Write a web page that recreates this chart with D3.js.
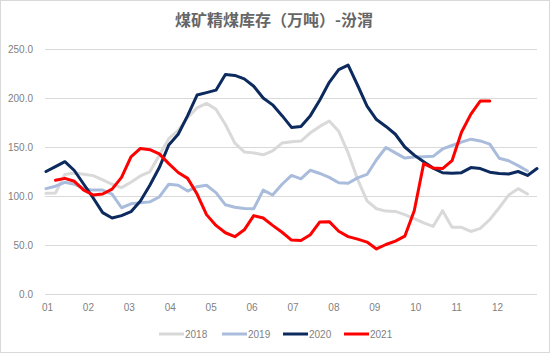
<!DOCTYPE html>
<html><head><meta charset="utf-8">
<script src="https://cdn.jsdelivr.net/npm/d3@7/dist/d3.min.js"></script>
<style>body{margin:0;background:#fff}svg{display:block}</style>
</head><body>
<svg id="c" width="550" height="353"></svg>
<script>
const monthLabels = ["01","02","03","04","05","06","07","08","09","10","11","12"];
const yTicks = [0, 50, 100, 150, 200, 250];
const seriesNames = ["2018","2019","2020","2021"];
const seriesColors = ["#d9d9d9","#a9bcdc","#0c2a5e","#ff0000"];
// weekly values (week index 0..52)
const v2018 = [102.7,103,122,123.5,122.3,120.8,116.5,112,108.5,114,120.5,124.7,141.5,158.5,167,180,190,194.5,188.5,173,154,145,144,142,146,154,155.4,156,164.5,171,176.5,166,144,117,95,87,84.6,84.3,81,77,72.5,69,85,68,68,63.8,67,76,88,101,107.5,102];
const v2019 = [107.5,110,114,112,107.5,106,106,102,88,92,93,94,99,112,111,105,109.5,111,103.5,91,88.5,87.3,87,106,101,112,121,117.5,126.3,123,119,113.5,113,118.5,122,137,149.5,144,138.7,139.7,140,140.5,148,151.5,155,158,156.2,153,138.5,136,131,125.5];
const v2020 = [125,130,135,126,112,98,83,77.5,80,84,95,111,129,152,163,182,203,205.5,208,224,223,219.5,212,200,193,182,170,171,182,198,216,229,233.5,213,191.8,178,171,163,150,141.7,135,128.5,123.7,123.3,123.8,129,128,124.3,123,122.5,125,121,128];
const v2021 = [null,116,118,115,106,101,102,107,119,140,148.5,147.3,143,133,124,118,102,81,70,62.5,58.5,65.5,80,77.5,70,63,55,54.5,60.5,73.5,73.8,64,58.5,56,53,46,50.5,54,59,85,133,128.5,128,136,165,183.5,197,197];
const seriesValues = [v2018, v2019, v2020, v2021];

const svg = d3.select("#c");
const fontLat = "'Liberation Sans', Arial, sans-serif";
svg.append("rect").attr("x",0.5).attr("y",0.5).attr("width",549).attr("height",352)
  .attr("fill","#fff").attr("stroke","#d9d9d9");

svg.append("text").attr("x",274).attr("y",26).attr("text-anchor","middle")
  .attr("font-family","'Noto Sans CJK SC', sans-serif").attr("font-size",16)
  .attr("font-weight","bold").attr("fill","#666").text("煤矿精煤库存（万吨）-汾渭");

const x = d3.scaleLinear().domain([0,52]).range([46,537]);
const y = d3.scaleLinear().domain([0,250]).range([294,49]);

const yAxis = svg.append("g").attr("transform","translate(45,0)")
  .call(d3.axisLeft(y).tickValues(yTicks).tickFormat(d3.format(".1f"))
    .tickSize(-492).tickPadding(12));
yAxis.select(".domain").remove();
yAxis.selectAll("line").attr("stroke","#d9d9d9");
yAxis.selectAll("text").attr("fill","#7f7f7f").attr("font-size",10).attr("font-family",fontLat);

const monthPos = monthLabels.map((m,i)=> i*52/12);
const xAxis = svg.append("g").attr("transform","translate(1,294)")
  .call(d3.axisBottom(x).tickValues(monthPos).tickFormat((d,i)=>monthLabels[i])
    .tickSize(0).tickPadding(10));
xAxis.select(".domain").remove();
xAxis.selectAll("text").attr("fill","#7f7f7f").attr("font-size",10).attr("font-family",fontLat);

const line = d3.line().defined(d=>d!=null).x((d,i)=>x(i)).y(d=>y(d));
seriesValues.forEach((vals,k)=>{
  svg.append("path").datum(vals).attr("d",line).attr("fill","none")
    .attr("stroke",seriesColors[k]).attr("stroke-width",3)
    .attr("stroke-linejoin","round").attr("stroke-linecap","round");
});

const legX = [159,222,283,344];
seriesNames.forEach((n,k)=>{
  const g = svg.append("g").attr("transform",`translate(${legX[k]},334)`);
  g.append("line").attr("x1",0).attr("x2",25).attr("y1",0).attr("y2",0)
    .attr("stroke",seriesColors[k]).attr("stroke-width",3);
  g.append("text").attr("x",26).attr("y",3.6).attr("font-size",10)
    .attr("font-family",fontLat).attr("fill","#7f7f7f").text(n);
});
</script>
</body></html>
